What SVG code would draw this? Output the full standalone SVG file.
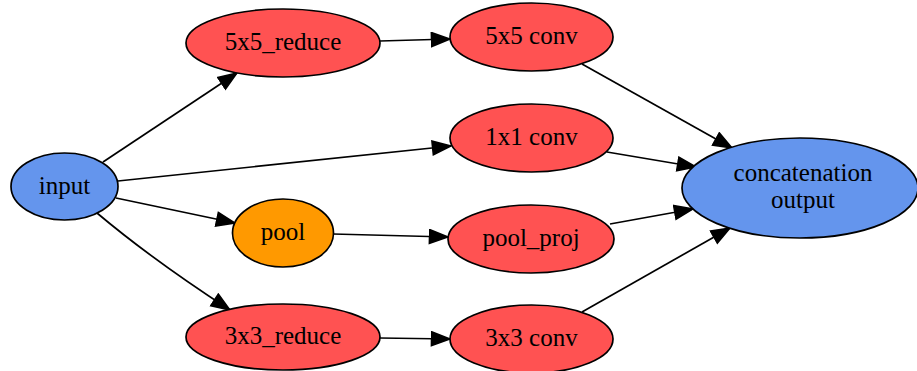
<svg xmlns="http://www.w3.org/2000/svg" width="917" height="371" viewBox="0 0 917 371">
<style>
  .n ellipse { stroke: #000; stroke-width: 1.7; }
  .red { fill: #ff5252; }
  .blue { fill: #6495ed; }
  .orange { fill: #ff9900; }
  text { font-family: "Liberation Serif", "Times New Roman", serif; font-size: 25px; fill: #000; text-anchor: middle; }
  .e { fill: none; stroke: #000; stroke-width: 1.7; marker-end: url(#arr); }
</style>
<defs>
  <marker id="arr" markerUnits="userSpaceOnUse" markerWidth="22" markerHeight="18" refX="18.5" refY="7" orient="auto" viewBox="-1 -1 22 18">
    <path d="M0,0 L18.5,7 L0,14 Z" fill="#000" stroke="#000" stroke-width="1.5"/>
  </marker>
</defs>
<rect width="917" height="371" fill="#fff"/>
<g id="edges">
  <path class="e" d="M103,162 L237,73"/>
  <path class="e" d="M118,181 L451,146"/>
  <path class="e" d="M116,198 L235,223"/>
  <path class="e" d="M97,213 C135,245 190,284 230,310"/>
  <path class="e" d="M380,41 L450,39"/>
  <path class="e" d="M333,234 L448,237"/>
  <path class="e" d="M380,338 L450,339"/>
  <path class="e" d="M582,64 L732,148"/>
  <path class="e" d="M607,152 L696,167"/>
  <path class="e" d="M610,224 L693,209"/>
  <path class="e" d="M582,312 L730,228"/>
</g>
<g id="input" class="n"><ellipse class="blue" cx="64.5" cy="186.5" rx="53.5" ry="33.5"/><text x="64.5" y="193.5">input</text></g>
<g id="reduce5" class="n"><ellipse class="red" cx="283" cy="43" rx="97" ry="34"/><text x="283" y="50">5x5_reduce</text></g>
<g id="pool" class="n"><ellipse class="orange" cx="283" cy="233" rx="50.5" ry="34"/><text x="283" y="240">pool</text></g>
<g id="reduce3" class="n"><ellipse class="red" cx="283" cy="337" rx="97" ry="33"/><text x="283" y="344">3x3_reduce</text></g>
<g id="conv5" class="n"><ellipse class="red" cx="531.5" cy="37" rx="81.5" ry="34"/><text x="531.5" y="44">5x5 conv</text></g>
<g id="conv1" class="n"><ellipse class="red" cx="531.5" cy="138" rx="81.5" ry="34"/><text x="531.5" y="145">1x1 conv</text></g>
<g id="poolproj" class="n"><ellipse class="red" cx="531" cy="239" rx="83" ry="34"/><text x="531" y="246">pool_proj</text></g>
<g id="conv3" class="n"><ellipse class="red" cx="531.5" cy="339" rx="81.5" ry="34"/><text x="531.5" y="346">3x3 conv</text></g>
<g id="concat" class="n"><ellipse class="blue" cx="800" cy="188" rx="118" ry="50"/><text x="803" y="181">concatenation</text><text x="803" y="208">output</text></g>
</svg>
